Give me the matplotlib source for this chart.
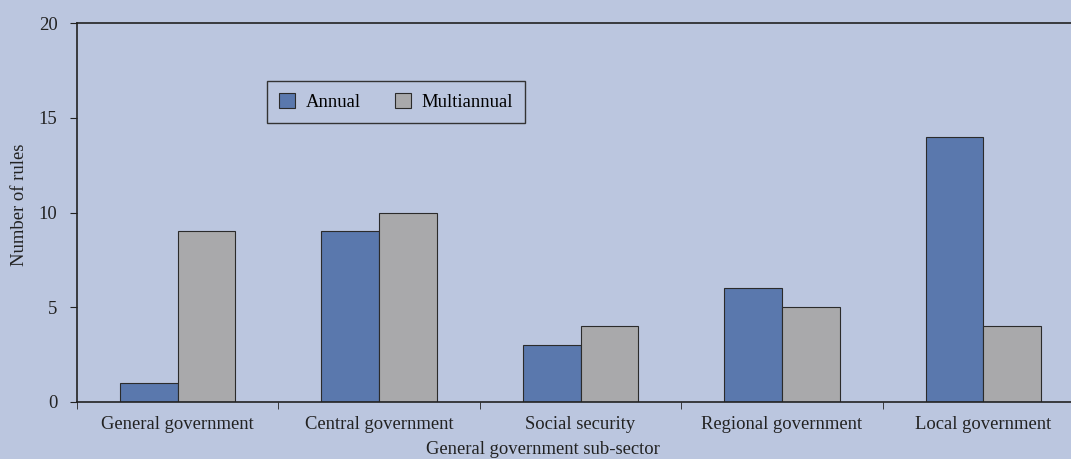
import matplotlib.pyplot as plt
import numpy as np

# Number of fiscal rules by general government sub-sector
sectors = ['General government', 'Central government', 'Social security',
           'Regional government', 'Local government']
annual = [1, 9, 3, 6, 14]
multiannual = [9, 10, 4, 5, 4]

bg = '#BBC6DF'
fs = 13.4
plt.rcParams['font.family'] = ['Liberation Serif', 'DejaVu Serif']

fig = plt.figure(figsize=(10.71, 4.59), dpi=100, facecolor=bg)
ax = fig.add_axes([77 / 1071, 57 / 459, 1007 / 1071, 379 / 459], facecolor=bg)

x = np.arange(len(sectors))
w = 0.286
ax.bar(x - w / 2, annual, w, color='#5A78AD', edgecolor='#2b2b2b', linewidth=0.8, label='Annual')
ax.bar(x + w / 2, multiannual, w, color='#A9A9AB', edgecolor='#2b2b2b', linewidth=0.8, label='Multiannual')

ax.set_xlim(-0.5, 4.5)
ax.set_ylim(0, 20)
ax.set_yticks([0, 5, 10, 15, 20])
ax.set_xticks(x)
ax.set_xticklabels(sectors)
ax.set_xticks(np.arange(-0.5, 5, 1), minor=True)
ax.tick_params(axis='x', which='major', length=0, pad=10, labelsize=fs, colors='#222222')
ax.tick_params(axis='x', which='minor', length=5, direction='out', color='#222222')
ax.tick_params(axis='y', length=5, direction='out', labelsize=fs, colors='#222222', pad=9)

for s in ['left', 'bottom', 'top']:
    ax.spines[s].set_color('#222222')
    ax.spines[s].set_linewidth(1.2)
ax.spines['right'].set_visible(False)

fig.text(20 / 1071, 1 - 205 / 459, 'Number of rules', rotation=90, ha='center', va='center',
         fontsize=fs, color='#222222')
fig.text(543 / 1071, 9 / 459, 'General government sub-sector', ha='center', va='center',
         fontsize=fs, color='#222222')

leg = ax.legend(ncol=2, loc='upper left', bbox_to_anchor=(267 / 1071, 1 - 81 / 459),
                bbox_transform=fig.transFigure, borderaxespad=0, fancybox=False, framealpha=1,
                facecolor=bg, edgecolor='#333333', fontsize=fs,
                handlelength=0.85, handleheight=0.85, columnspacing=1.8,
                borderpad=0.65, handletextpad=0.6)
leg.get_frame().set_linewidth(1.0)

fig.savefig('out.png', dpi=100, facecolor=bg)
